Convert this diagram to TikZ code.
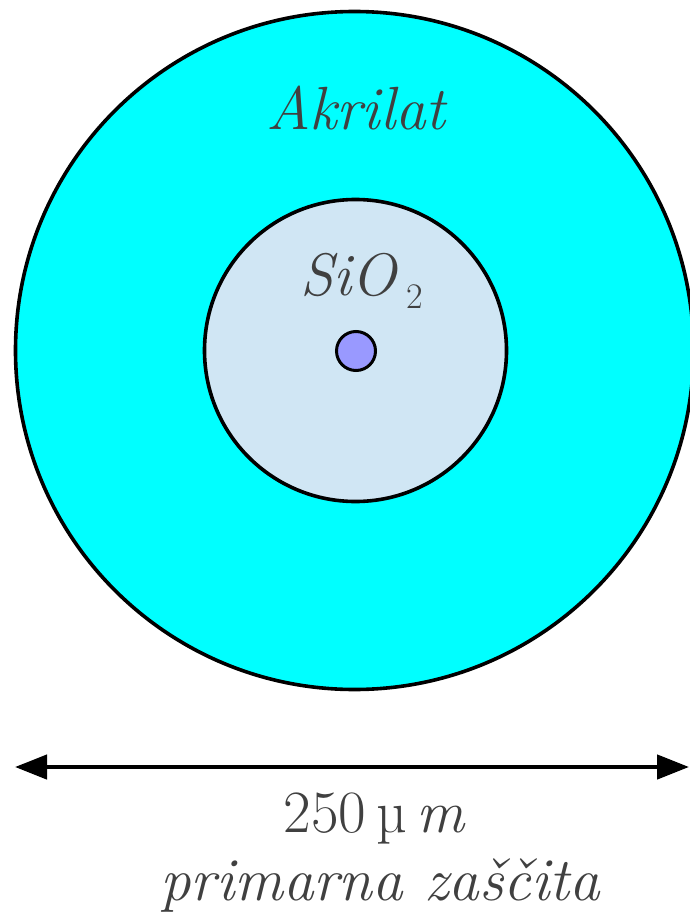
\documentclass[tikz,border=0pt]{standalone}
\usepackage{fontspec}
\usetikzlibrary{arrows.meta}
\definecolor{acryl}{RGB}{0,255,255}
\definecolor{glass}{RGB}{208,230,244}
\definecolor{corec}{RGB}{153,153,255}
\definecolor{txt}{RGB}{64,64,64}
\begin{document}
\begin{tikzpicture}[x=1pt,y=-1pt,
  ring/.style={circle,draw=black,line width=3.6pt,inner sep=0pt},
  lbl/.style={text=txt,inner sep=0pt,anchor=base}]
\useasboundingbox (0,0) rectangle (689,917);
\node[ring,fill=acryl,minimum size=678pt] (clad) at (354.5,350.5) {};
\node[ring,fill=glass,minimum size=302pt] (glassc) at (355.5,350.5) {};
\node[ring,fill=corec,minimum size=39pt,line width=3pt] (core) at (356,351) {};
\node[lbl,font=\fontsize{61}{61}\selectfont] (akr) at (356,130) {\itshape Akrilat};
\node[lbl,font=\fontsize{60}{60}\selectfont] (sio) at (362,295) {\itshape SiO\,\raisebox{-13pt}{\upshape\fontsize{36}{36}\selectfont 2}};
\coordinate (L) at (15,767);
\coordinate (R) at (689,767);
\draw[line width=4.5pt,{Triangle[length=32pt,width=24pt]}-{Triangle[length=32pt,width=24pt]}] (L) -- (R);
\node[lbl,font=\fontsize{60}{60}\selectfont] (dim) at (375,832) {250\,µ\,\textit{m}};
\node[lbl,font=\fontsize{61}{61}\selectfont] (prim) at (380,900) {\itshape primarna zaščita};
\end{tikzpicture}
\end{document}
